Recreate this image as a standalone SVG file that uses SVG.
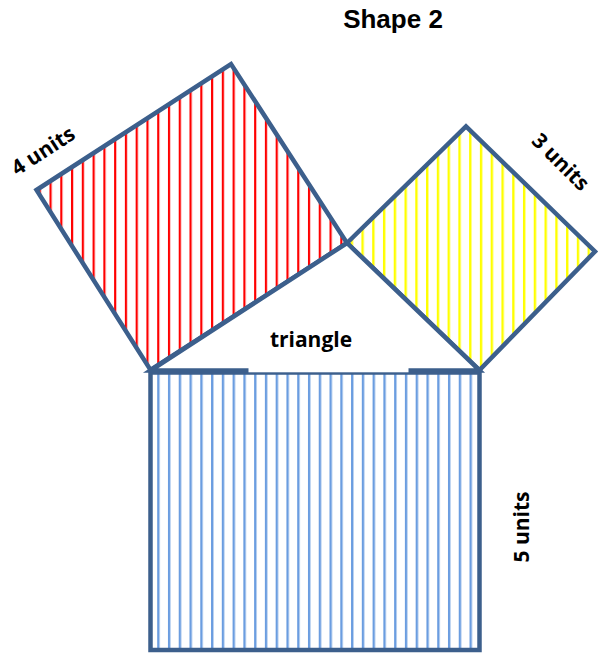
<svg xmlns="http://www.w3.org/2000/svg" width="605" height="655" viewBox="0 0 605 655">
  <style>
    .edge { stroke: #3c5f8c; stroke-width: 4.5; stroke-linejoin: miter; }
    .lbl { font-family: "Open Sans", "Liberation Sans", sans-serif; font-weight: bold; font-size: 21px; fill: #000; text-anchor: middle; }
    .title { font-family: "Liberation Sans", Arial, sans-serif; font-weight: bold; font-size: 26px; fill: #000; text-anchor: middle; }
  </style>
  <defs>
    <pattern id="hatch-red" x="6.4" y="0" width="10.77" height="10" patternUnits="userSpaceOnUse">
      <rect x="0" y="0" width="10.77" height="10" fill="#ffffff"/>
      <rect x="0" y="0" width="2.2" height="10" fill="#ff0000"/>
    </pattern>
    <pattern id="hatch-yellow" x="6.0" y="0" width="10.77" height="10" patternUnits="userSpaceOnUse">
      <rect x="0" y="0" width="10.77" height="10" fill="#ffffff"/>
      <rect x="0" y="0" width="2.4" height="10" fill="#ffff00"/>
    </pattern>
    <pattern id="hatch-blue" x="6.4" y="0" width="10.77" height="10" patternUnits="userSpaceOnUse">
      <rect x="0" y="0" width="10.77" height="10" fill="#ffffff"/>
      <rect x="0" y="0" width="2.4" height="10" fill="#6b9de0"/>
    </pattern>
  </defs>
  <rect width="605" height="655" fill="#ffffff"/>

  <g id="title">
    <text class="title" x="393" y="28">Shape 2</text>
  </g>

  <g id="square-4-units">
    <polygon class="edge" points="36.5,190 231,64 347,243 150.5,370" fill="url(#hatch-red)"/>
    <text class="lbl" transform="translate(47,157) rotate(-33)" x="0" y="0">4 units</text>
  </g>

  <g id="square-3-units">
    <polygon class="edge" points="347,243 466,126.5 595,251.5 479.5,370" fill="url(#hatch-yellow)"/>
    <text class="lbl" transform="translate(555.5,167) rotate(45)" x="0" y="0">3 units</text>
  </g>

  <g id="square-5-units">
    <rect class="edge" x="150.5" y="372.5" width="329" height="277.5" fill="url(#hatch-blue)"/>
    <text class="lbl" transform="translate(529,527) rotate(-90)" x="0" y="0">5 units</text>
  </g>

  <g id="triangle">
    <polygon class="edge" points="150.5,370.5 347,243 479.5,370.5" fill="#ffffff"/>
    <rect x="248.5" y="318" width="160" height="54.3" fill="#ffffff"/>
    <text class="lbl" x="311" y="347">triangle</text>
  </g>

  <g id="connectors"></g>
</svg>
